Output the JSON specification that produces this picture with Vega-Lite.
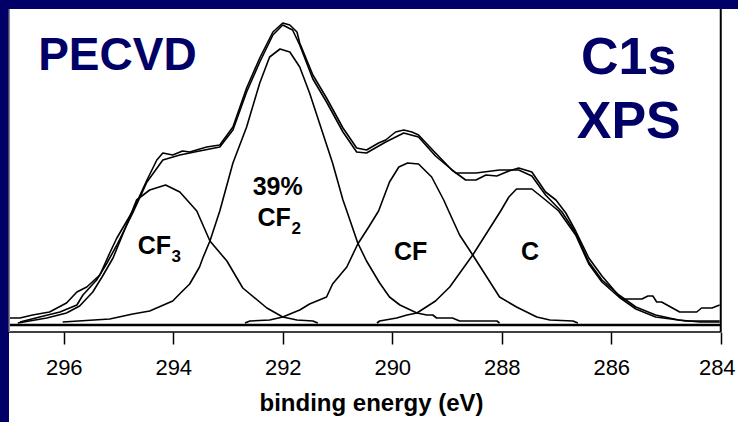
{
  "$schema": "https://vega.github.io/schema/vega-lite/v6.json",
  "width": 729,
  "height": 413,
  "autosize": {"type": "none"},
  "padding": {"left": 9, "top": 9, "right": 0, "bottom": 0},
  "background": "#000066",
  "config": {"view": {"fill": "white", "stroke": null}, "font": "Liberation Sans"},
  "datasets": {
    "curves": [
      {"series":"data","energy":297.00,"counts":7},{"series":"data","energy":296.80,"counts":7},{"series":"data","energy":296.57,"counts":10},{"series":"data","energy":296.26,"counts":13},{"series":"data","energy":295.95,"counts":22},{"series":"data","energy":295.76,"counts":33},{"series":"data","energy":295.58,"counts":38},{"series":"data","energy":295.34,"counts":50},{"series":"data","energy":295.16,"counts":72},{"series":"data","energy":295.03,"counts":87},{"series":"data","energy":294.74,"counts":114},{"series":"data","energy":294.48,"counts":145},{"series":"data","energy":294.30,"counts":165},{"series":"data","energy":294.19,"counts":172},{"series":"data","energy":294.01,"counts":170},{"series":"data","energy":293.83,"counts":174},{"series":"data","energy":293.70,"counts":173},{"series":"data","energy":293.39,"counts":178},{"series":"data","energy":293.15,"counts":180},{"series":"data","energy":292.91,"counts":198},{"series":"data","energy":292.66,"counts":237},{"series":"data","energy":292.42,"counts":267},{"series":"data","energy":292.18,"counts":293},{"series":"data","energy":292.00,"counts":302},{"series":"data","energy":291.87,"counts":300},{"series":"data","energy":291.74,"counts":293},{"series":"data","energy":291.69,"counts":282},{"series":"data","energy":291.45,"counts":250},{"series":"data","energy":291.20,"counts":227},{"series":"data","energy":290.90,"counts":197},{"series":"data","energy":290.65,"counts":177},{"series":"data","energy":290.47,"counts":175},{"series":"data","energy":290.25,"counts":182},{"series":"data","energy":290.12,"counts":185},{"series":"data","energy":289.94,"counts":193},{"series":"data","energy":289.79,"counts":195},{"series":"data","energy":289.64,"counts":193},{"series":"data","energy":289.52,"counts":190},{"series":"data","energy":289.21,"counts":172},{"series":"data","energy":288.91,"counts":155},{"series":"data","energy":288.66,"counts":145},{"series":"data","energy":288.47,"counts":145},{"series":"data","energy":288.29,"counts":150},{"series":"data","energy":288.09,"counts":149},{"series":"data","energy":287.87,"counts":154},{"series":"data","energy":287.69,"counts":157},{"series":"data","energy":287.45,"counts":153},{"series":"data","energy":287.20,"counts":133},{"series":"data","energy":287.01,"counts":125},{"series":"data","energy":286.83,"counts":112},{"series":"data","energy":286.65,"counts":94},{"series":"data","energy":286.41,"counts":67},{"series":"data","energy":286.17,"counts":49},{"series":"data","energy":285.81,"counts":26},{"series":"data","energy":285.44,"counts":26},{"series":"data","energy":285.33,"counts":29},{"series":"data","energy":285.24,"counts":29},{"series":"data","energy":285.17,"counts":23},{"series":"data","energy":285.08,"counts":23},{"series":"data","energy":284.75,"counts":13},{"series":"data","energy":284.44,"counts":13},{"series":"data","energy":284.35,"counts":17},{"series":"data","energy":284.16,"counts":17},{"series":"data","energy":284.02,"counts":20},

      {"series":"fit","energy":296.80,"counts":3},{"series":"fit","energy":296.44,"counts":8},{"series":"fit","energy":296.07,"counts":13},{"series":"fit","energy":295.76,"counts":20},{"series":"fit","energy":295.65,"counts":30},{"series":"fit","energy":295.40,"counts":45},{"series":"fit","energy":295.21,"counts":62},{"series":"fit","energy":295.03,"counts":80},{"series":"fit","energy":294.74,"counts":112},{"series":"fit","energy":294.48,"counts":143},{"series":"fit","energy":294.19,"counts":165},{"series":"fit","energy":293.88,"counts":170},{"series":"fit","energy":293.52,"counts":174},{"series":"fit","energy":293.15,"counts":178},{"series":"fit","energy":292.91,"counts":195},{"series":"fit","energy":292.66,"counts":233},{"series":"fit","energy":292.42,"counts":263},{"series":"fit","energy":292.18,"counts":290},{"series":"fit","energy":292.00,"counts":300},{"series":"fit","energy":291.82,"counts":295},{"series":"fit","energy":291.69,"counts":280},{"series":"fit","energy":291.45,"counts":246},{"series":"fit","energy":291.20,"counts":223},{"series":"fit","energy":290.90,"counts":193},{"series":"fit","energy":290.65,"counts":173},{"series":"fit","energy":290.47,"counts":172},{"series":"fit","energy":290.12,"counts":183},{"series":"fit","energy":289.79,"counts":192},{"series":"fit","energy":289.52,"counts":188},{"series":"fit","energy":289.21,"counts":169},{"series":"fit","energy":288.84,"counts":152},{"series":"fit","energy":288.47,"counts":152},{"series":"fit","energy":288.04,"counts":155},{"series":"fit","energy":287.69,"counts":155},{"series":"fit","energy":287.45,"counts":149},{"series":"fit","energy":287.20,"counts":130},{"series":"fit","energy":286.90,"counts":113},{"series":"fit","energy":286.65,"counts":92},{"series":"fit","energy":286.41,"counts":63},{"series":"fit","energy":286.17,"counts":45},{"series":"fit","energy":285.86,"counts":30},{"series":"fit","energy":285.55,"counts":18},{"series":"fit","energy":285.19,"counts":10},{"series":"fit","energy":284.77,"counts":5},{"series":"fit","energy":284.38,"counts":3},{"series":"fit","energy":284.02,"counts":3},

      {"series":"CF3","energy":296.84,"counts":2},{"series":"CF3","energy":296.31,"counts":7},{"series":"CF3","energy":295.95,"counts":12},{"series":"CF3","energy":295.71,"counts":19},{"series":"CF3","energy":295.47,"counts":33},{"series":"CF3","energy":295.29,"counts":49},{"series":"CF3","energy":295.10,"counts":67},{"series":"CF3","energy":294.89,"counts":95},{"series":"CF3","energy":294.67,"counts":125},{"series":"CF3","energy":294.43,"counts":135},{"series":"CF3","energy":294.14,"counts":140},{"series":"CF3","energy":293.88,"counts":133},{"series":"CF3","energy":293.70,"counts":122},{"series":"CF3","energy":293.57,"counts":114},{"series":"CF3","energy":293.33,"counts":84},{"series":"CF3","energy":293.02,"counts":64},{"series":"CF3","energy":292.73,"counts":37},{"series":"CF3","energy":292.29,"counts":17},{"series":"CF3","energy":292.00,"counts":8},{"series":"CF3","energy":291.74,"counts":5},{"series":"CF3","energy":291.45,"counts":4},{"series":"CF3","energy":291.36,"counts":2},

      {"series":"CF2","energy":296.02,"counts":3},{"series":"CF2","energy":295.16,"counts":6},{"series":"CF2","energy":294.74,"counts":11},{"series":"CF2","energy":294.43,"counts":14},{"series":"CF2","energy":294.01,"counts":24},{"series":"CF2","energy":293.83,"counts":34},{"series":"CF2","energy":293.70,"counts":41},{"series":"CF2","energy":293.52,"counts":58},{"series":"CF2","energy":293.46,"counts":67},{"series":"CF2","energy":293.33,"counts":84},{"series":"CF2","energy":293.15,"counts":114},{"series":"CF2","energy":292.91,"counts":162},{"series":"CF2","energy":292.66,"counts":198},{"series":"CF2","energy":292.42,"counts":242},{"series":"CF2","energy":292.24,"counts":268},{"series":"CF2","energy":292.05,"counts":276},{"series":"CF2","energy":291.87,"counts":273},{"series":"CF2","energy":291.69,"counts":258},{"series":"CF2","energy":291.51,"counts":232},{"series":"CF2","energy":291.27,"counts":192},{"series":"CF2","energy":291.09,"counts":162},{"series":"CF2","energy":290.90,"counts":125},{"series":"CF2","energy":290.83,"counts":114},{"series":"CF2","energy":290.63,"counts":82},{"series":"CF2","energy":290.47,"counts":64},{"series":"CF2","energy":290.23,"counts":42},{"series":"CF2","energy":290.05,"counts":28},{"series":"CF2","energy":289.86,"counts":20},{"series":"CF2","energy":289.55,"counts":12},{"series":"CF2","energy":289.37,"counts":10},{"series":"CF2","energy":289.26,"counts":10},{"series":"CF2","energy":289.19,"counts":7},{"series":"CF2","energy":288.90,"counts":7},{"series":"CF2","energy":288.77,"counts":4},{"series":"CF2","energy":288.09,"counts":4},{"series":"CF2","energy":288.04,"counts":2},

      {"series":"CF","energy":292.69,"counts":2},{"series":"CF","energy":292.60,"counts":4},{"series":"CF","energy":292.24,"counts":5},{"series":"CF","energy":292.00,"counts":8},{"series":"CF","energy":291.69,"counts":15},{"series":"CF","energy":291.51,"counts":21},{"series":"CF","energy":291.20,"counts":28},{"series":"CF","energy":291.09,"counts":41},{"series":"CF","energy":290.83,"counts":58},{"series":"CF","energy":290.63,"counts":81},{"series":"CF","energy":290.43,"counts":98},{"series":"CF","energy":290.25,"counts":114},{"series":"CF","energy":290.05,"counts":143},{"series":"CF","energy":289.88,"counts":158},{"series":"CF","energy":289.72,"counts":162},{"series":"CF","energy":289.52,"counts":161},{"series":"CF","energy":289.28,"counts":148},{"series":"CF","energy":289.06,"counts":125},{"series":"CF","energy":288.97,"counts":114},{"series":"CF","energy":288.77,"counts":90},{"series":"CF","energy":288.53,"counts":70},{"series":"CF","energy":288.04,"counts":28},{"series":"CF","energy":287.73,"counts":18},{"series":"CF","energy":287.36,"counts":8},{"series":"CF","energy":287.12,"counts":5},{"series":"CF","energy":286.70,"counts":4},{"series":"CF","energy":286.61,"counts":2},

      {"series":"C","energy":290.28,"counts":2},{"series":"C","energy":290.23,"counts":4},{"series":"C","energy":289.92,"counts":7},{"series":"C","energy":289.73,"counts":10},{"series":"C","energy":289.55,"counts":12},{"series":"C","energy":289.21,"counts":24},{"series":"C","energy":288.95,"counts":38},{"series":"C","energy":288.53,"counts":70},{"series":"C","energy":288.24,"counts":95},{"series":"C","energy":288.02,"counts":114},{"series":"C","energy":287.87,"counts":128},{"series":"C","energy":287.73,"counts":136},{"series":"C","energy":287.45,"counts":136},{"series":"C","energy":287.20,"counts":125},{"series":"C","energy":286.96,"counts":114},{"series":"C","energy":286.65,"counts":90},{"series":"C","energy":286.41,"counts":61},{"series":"C","energy":286.17,"counts":43},{"series":"C","energy":285.86,"counts":28},{"series":"C","energy":285.55,"counts":16},{"series":"C","energy":285.19,"counts":8},{"series":"C","energy":284.77,"counts":5},{"series":"C","energy":284.64,"counts":4},{"series":"C","energy":284.02,"counts":4}
    ]
  },
  "layer": [
    {
      "data": {"name": "curves"},
      "mark": {"type": "line", "color": "#000000", "strokeWidth": 1.6, "strokeJoin": "round"},
      "encoding": {
        "x": {
          "field": "energy", "type": "quantitative",
          "scale": {"domain": [283.685, 297], "reverse": true, "nice": false, "zero": false},
          "axis": {
            "values": [296, 294, 292, 290, 288, 286, 284],
            "format": "d",
            "offset": -90,
            "domain": false,
            "grid": false,
            "tickSize": 12,
            "tickWidth": 1.5,
            "tickColor": "#000000",
            "labelFontSize": 22,
            "labelFont": "Liberation Sans",
            "labelColor": "#000000",
            "labelPadding": 13,
            "labelFlush": false,
            "labelOverlap": false,
            "labelOffset": {"condition": {"test": "datum.value == 284", "value": -4}, "value": 0},
            "title": "binding energy (eV)",
            "titleFont": "Liberation Sans",
            "titleFontSize": 24,
            "titleFontWeight": "bold",
            "titleColor": "#000000",
            "titlePadding": 13,
            "titleX": 362,
            "titleAnchor": null,
            "titleAlign": "center"
          }
        },
        "y": {
          "field": "counts", "type": "quantitative",
          "scale": {"domain": [-97, 316], "nice": false, "zero": false},
          "axis": null
        },
        "detail": {"field": "series", "type": "nominal"}
      }
    },
    {
      "data": {"values": [{"energy": 297, "energy2": 284, "counts": 0}]},
      "mark": {"type": "rule", "color": "#000000", "strokeWidth": 2.5},
      "encoding": {
        "x": {"field": "energy", "type": "quantitative"},
        "x2": {"field": "energy2"},
        "y": {"field": "counts", "type": "quantitative"}
      }
    },
    {
      "data": {"values": [{"energy": 297, "energy2": 284, "counts": -7}]},
      "mark": {"type": "rule", "color": "#000000", "strokeWidth": 1.6},
      "encoding": {
        "x": {"field": "energy", "type": "quantitative"},
        "x2": {"field": "energy2"},
        "y": {"field": "counts", "type": "quantitative"}
      }
    },
    {
      "data": {"values": [{"energy": 284, "counts": -7, "counts2": 316}]},
      "mark": {"type": "rule", "color": "#000000", "strokeWidth": 2},
      "encoding": {
        "x": {"field": "energy", "type": "quantitative"},
        "y": {"field": "counts", "type": "quantitative"},
        "y2": {"field": "counts2"}
      }
    },
    {
      "data": {"values": [{"energy": 296.995, "counts": -7, "counts2": 316}]},
      "mark": {"type": "rule", "color": "#8a8a8a", "strokeWidth": 1.5},
      "encoding": {
        "x": {"field": "energy", "type": "quantitative"},
        "y": {"field": "counts", "type": "quantitative"},
        "y2": {"field": "counts2"}
      }
    },
    {
      "data": {"values": [{"energy": 295.02, "counts": 255, "label": "PECVD"}]},
      "mark": {"type": "text", "font": "Liberation Sans", "fontSize": 46, "fontWeight": "bold", "color": "#000066", "align": "center", "baseline": "alphabetic"},
      "encoding": {
        "x": {"field": "energy", "type": "quantitative"},
        "y": {"field": "counts", "type": "quantitative"},
        "text": {"field": "label"}
      }
    },
    {
      "data": {"values": [{"energy": 285.68, "counts": 251, "label": "C1s"}, {"energy": 285.68, "counts": 187, "label": "XPS"}]},
      "mark": {"type": "text", "font": "Liberation Sans", "fontSize": 52, "fontWeight": "bold", "color": "#000066", "align": "center", "baseline": "alphabetic"},
      "encoding": {
        "x": {"field": "energy", "type": "quantitative"},
        "y": {"field": "counts", "type": "quantitative"},
        "text": {"field": "label"}
      }
    },
    {
      "data": {"values": [
        {"energy": 292.55, "counts": 130, "label": "39%"},
        {"energy": 292.46, "counts": 99, "label": "CF"},
        {"energy": 294.65, "counts": 71, "label": "CF"},
        {"energy": 289.97, "counts": 65, "label": "CF"},
        {"energy": 287.65, "counts": 65, "label": "C"}
      ]},
      "mark": {"type": "text", "font": "Liberation Sans", "fontSize": 25, "fontWeight": "bold", "color": "#000000", "align": "left", "baseline": "alphabetic"},
      "encoding": {
        "x": {"field": "energy", "type": "quantitative"},
        "y": {"field": "counts", "type": "quantitative"},
        "text": {"field": "label"}
      }
    },
    {
      "data": {"values": [
        {"energy": 291.84, "counts": 91, "label": "2"},
        {"energy": 294.03, "counts": 63, "label": "3"}
      ]},
      "mark": {"type": "text", "font": "Liberation Sans", "fontSize": 17, "fontWeight": "bold", "color": "#000000", "align": "left", "baseline": "alphabetic"},
      "encoding": {
        "x": {"field": "energy", "type": "quantitative"},
        "y": {"field": "counts", "type": "quantitative"},
        "text": {"field": "label"}
      }
    }
  ]
}
